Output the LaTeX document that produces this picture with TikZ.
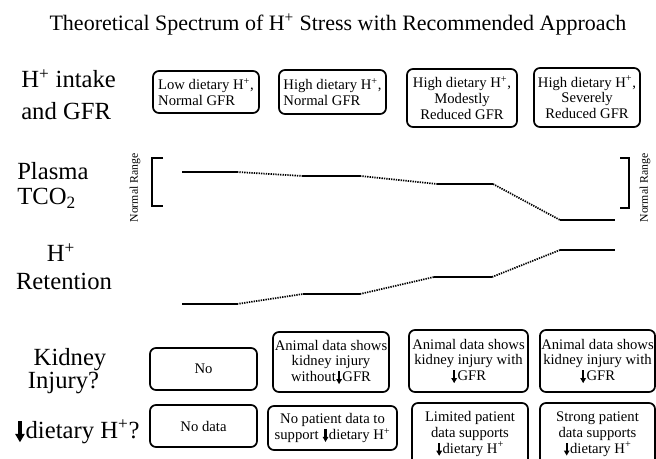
\documentclass[tikz,border=0pt]{standalone}
\usepackage{fontspec}
\setmainfont{Liberation Serif}
\newcommand{\darr}{\kern0.02em\tikz[baseline=0pt,x=1em,y=1em,sharp corners]{\fill[draw=none] (-0.075,0.69) rectangle (0.075,0.14); \fill[draw=none] (-0.2,0.17) -- (0.2,0.17) -- (0,-0.17) -- cycle;}\kern0.03em}
\begin{document}
\begin{tikzpicture}[x=0.75pt,y=-0.75pt,
  titletext/.style={font=\fontsize{16.5}{20}\selectfont, inner sep=0pt},
  rowlab/.style={font=\fontsize{18.5}{22}\selectfont, inner sep=0pt},
  box/.style={draw, line width=1.3pt, rounded corners=4.5pt, align=center, inner sep=1pt, font=\fontsize{11}{11.8}\selectfont},
  bs/.style 2 args={minimum width=#1*0.75pt, minimum height=#2*0.75pt},
  level/.style={line width=1.5pt},
  trans/.style={line width=1.3pt, dash pattern=on 1pt off 0.8pt},
  brk/.style={line width=1.6pt},
  nr/.style={font=\fontsize{8.8}{10}\selectfont, rotate=90, inner sep=0pt}]
\useasboundingbox (0,0) rectangle (656,459);

% title
\node[titletext, anchor=base] (title) at (338,31) {Theoretical Spectrum of H\textsuperscript{+} Stress with Recommended Approach};

% row labels
\node[rowlab, anchor=base west] (l1a) at (21,88) {H\textsuperscript{+} intake};
\node[rowlab, anchor=base west] (l1b) at (21,120) {and GFR};
\node[rowlab, anchor=base west] (l2a) at (17,180) {Plasma};
\node[rowlab, anchor=base west] (l2b) at (17,205) {TCO\textsubscript{2}};
\node[rowlab, anchor=base] (l3a) at (61,262) {H\textsuperscript{+}};
\node[rowlab, anchor=base] (l3b) at (64,290) {Retention};
\node[rowlab, anchor=base] (l4a) at (70,365) {Kidney};
\node[rowlab, anchor=base] (l4b) at (63.5,388) {Injury?};
\node[rowlab, anchor=base] (l5) at (77,438) {\darr dietary H\textsuperscript{+}?};

% row 1 boxes
\node[box, bs={106}{42}, align=left] (b1) at (206,92) {Low dietary H\textsuperscript{+},\\Normal GFR};
\node[box, bs={107}{44}, align=left] (b2) at (332.5,92) {High dietary H\textsuperscript{+},\\Normal GFR};
\node[box, bs={110}{58}] (b3) at (462,98) {High dietary H\textsuperscript{+},\\Modestly\\Reduced GFR};
\node[box, bs={106}{59}] (b4) at (587,97.5) {High dietary H\textsuperscript{+},\\Severely\\Reduced GFR};

% kidney injury boxes
\node[box, bs={107}{42}] (k1) at (203.5,369) {No};
\node[box, bs={116}{60}] (k2) at (331,362) {Animal data shows\\kidney injury\\without\darr GFR};
\node[box, bs={119}{62}] (k3) at (468.5,361) {Animal data shows\\kidney injury with\\\darr GFR};
\node[box, bs={115}{62}] (k4) at (597.5,361) {Animal data shows\\kidney injury with\\\darr GFR};

% dietary boxes
\node[box, bs={107}{42}] (d1) at (203.5,426) {No data};
\node[box, bs={129}{44}] (d2) at (332.5,428) {No patient data to\\support \darr dietary H\textsuperscript{+}};
\node[box, bs={116}{62}] (d3) at (470,434) {Limited patient\\data supports\\\darr dietary H\textsuperscript{+}};
\node[box, bs={115}{62}] (d4) at (597.5,434) {Strong patient\\data supports\\\darr dietary H\textsuperscript{+}};

% normal range brackets
\draw[brk] (163,158) -- (152,158) -- (152,206) -- (163,206);
\draw[brk] (620,158) -- (629,158) -- (629,208) -- (620,208);
\node[nr] (nrl) at (135,188) {Normal Range};
\node[nr] (nrr) at (645,188) {Normal Range};

% plasma TCO2 levels
\coordinate (t1a) at (182,172); \coordinate (t1b) at (237,172);
\coordinate (t2a) at (303,176); \coordinate (t2b) at (360,176);
\coordinate (t3a) at (437,184); \coordinate (t3b) at (493,184);
\coordinate (t4a) at (560,220); \coordinate (t4b) at (615,220);
\draw[level] (t1a) -- (t1b);
\draw[level] (t2a) -- (t2b);
\draw[level] (t3a) -- (t3b);
\draw[level] (t4a) -- (t4b);
\draw[trans] (t1b) -- (t2a);
\draw[trans] (t2b) -- (t3a);
\draw[trans] (t3b) -- (t4a);

% H+ retention levels
\coordinate (r1a) at (182,304); \coordinate (r1b) at (237,304);
\coordinate (r2a) at (303,294); \coordinate (r2b) at (360,294);
\coordinate (r3a) at (434,277); \coordinate (r3b) at (492,277);
\coordinate (r4a) at (560,250); \coordinate (r4b) at (615,250);
\draw[level] (r1a) -- (r1b);
\draw[level] (r2a) -- (r2b);
\draw[level] (r3a) -- (r3b);
\draw[level] (r4a) -- (r4b);
\draw[trans] (r1b) -- (r2a);
\draw[trans] (r2b) -- (r3a);
\draw[trans] (r3b) -- (r4a);
\end{tikzpicture}
\end{document}
